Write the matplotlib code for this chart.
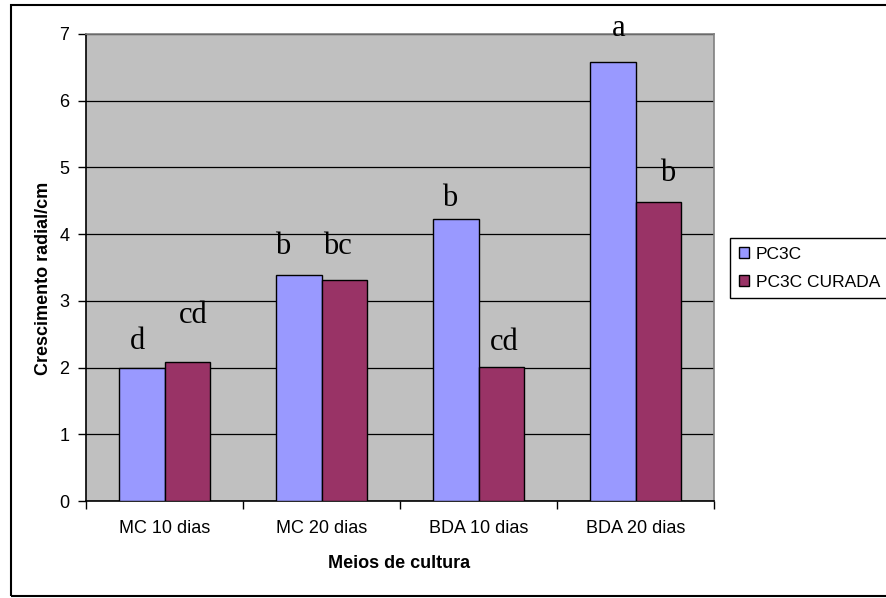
import matplotlib
matplotlib.use("Agg")
import matplotlib.pyplot as plt
from matplotlib.patches import Rectangle
import numpy as np

categories = ['MC 10 dias', 'MC 20 dias', 'BDA 10 dias', 'BDA 20 dias']
pc3c = [1.99, 3.39, 4.22, 6.58]
pc3c_curada = [2.08, 3.32, 2.01, 4.48]
letters_pc3c = ['d', 'b', 'b', 'a']
letters_curada = ['cd', 'bc', 'cd', 'b']

# hand placed letter offsets (px) from the top centre of each bar
off_pc3c = [(-4, 19.7), (-16.5, 21), (-6, 13.6), (5.3, 25.6)]
off_curada = [(6.4, 39), (-7, 26), (3.7, 16.7), (9.3, 21.6)]

fig = plt.figure(figsize=(8.86, 5.98), dpi=100)
ax = fig.add_axes([86/886, 1-501/598, (714-86)/886, (501-34)/598])
ax.set_facecolor('#C0C0C0')

x = np.arange(len(categories))
w = 0.287
b1 = ax.bar(x - w/2, pc3c, w, color='#9999FF', edgecolor='black', linewidth=1, label='PC3C', zorder=3)
b2 = ax.bar(x + w/2, pc3c_curada, w, color='#993366', edgecolor='black', linewidth=1, label='PC3C CURADA', zorder=3)

px = 0.72  # points per pixel at 100 dpi
for bars, lets, offs in [(b1, letters_pc3c, off_pc3c), (b2, letters_curada, off_curada)]:
    for rect, t, (dx, dy) in zip(bars, lets, offs):
        ax.annotate(t, (rect.get_x() + rect.get_width()/2, rect.get_height()),
                    xytext=(dx*px, dy*px), textcoords='offset points',
                    ha='center', va='baseline', fontsize=22,
                    family='Liberation Serif', zorder=5, annotation_clip=False)

ax.set_ylim(0, 7)
ax.set_xlim(-0.5, len(categories) - 0.5)
ax.set_yticks(range(8))
ax.yaxis.grid(True, color='black', linewidth=0.9, zorder=1)
ax.set_axisbelow(True)

ax.set_xticks(x)
ax.set_xticklabels(categories, fontsize=13, family='Liberation Sans')
ax.set_xticks(np.arange(-0.5, len(categories)), minor=True)
ax.tick_params(axis='x', which='major', length=0, pad=14)
ax.tick_params(axis='x', which='minor', length=6, width=1, direction='out')
ax.tick_params(axis='y', length=6, width=1, direction='out', pad=6, labelsize=13)
for lab in ax.get_yticklabels():
    lab.set_family('Liberation Sans')

for s in ['top', 'right']:
    ax.spines[s].set_color('#808080')
    ax.spines[s].set_linewidth(1.2)
for s in ['left', 'bottom']:
    ax.spines[s].set_color('black')
    ax.spines[s].set_linewidth(1.2)

ax.set_xlabel('Meios de cultura', fontsize=13, fontweight='bold', family='Liberation Sans')
ax.set_ylabel('Crescimento radial/cm', fontsize=13, fontweight='bold', family='Liberation Sans')
ax.xaxis.set_label_coords(0.498, -0.115)
ax.yaxis.set_label_coords(-0.054, 0.476)

leg = ax.legend(loc='upper left', bbox_to_anchor=(730/886, 1-238/598),
                bbox_transform=fig.transFigure, borderaxespad=0,
                fancybox=False, shadow=False, framealpha=1,
                edgecolor='black', handlelength=0.6, handleheight=0.6,
                handletextpad=0.4, borderpad=0.5, labelspacing=0.75,
                prop={'family': 'Liberation Sans', 'size': 12.5})
leg.get_frame().set_linewidth(1)

fig.add_artist(Rectangle((11/886, 1-596/598), 1.2, (596-4.7)/598,
                         transform=fig.transFigure, fill=False,
                         edgecolor='black', linewidth=1.5))

fig.savefig('out.png', dpi=100)
